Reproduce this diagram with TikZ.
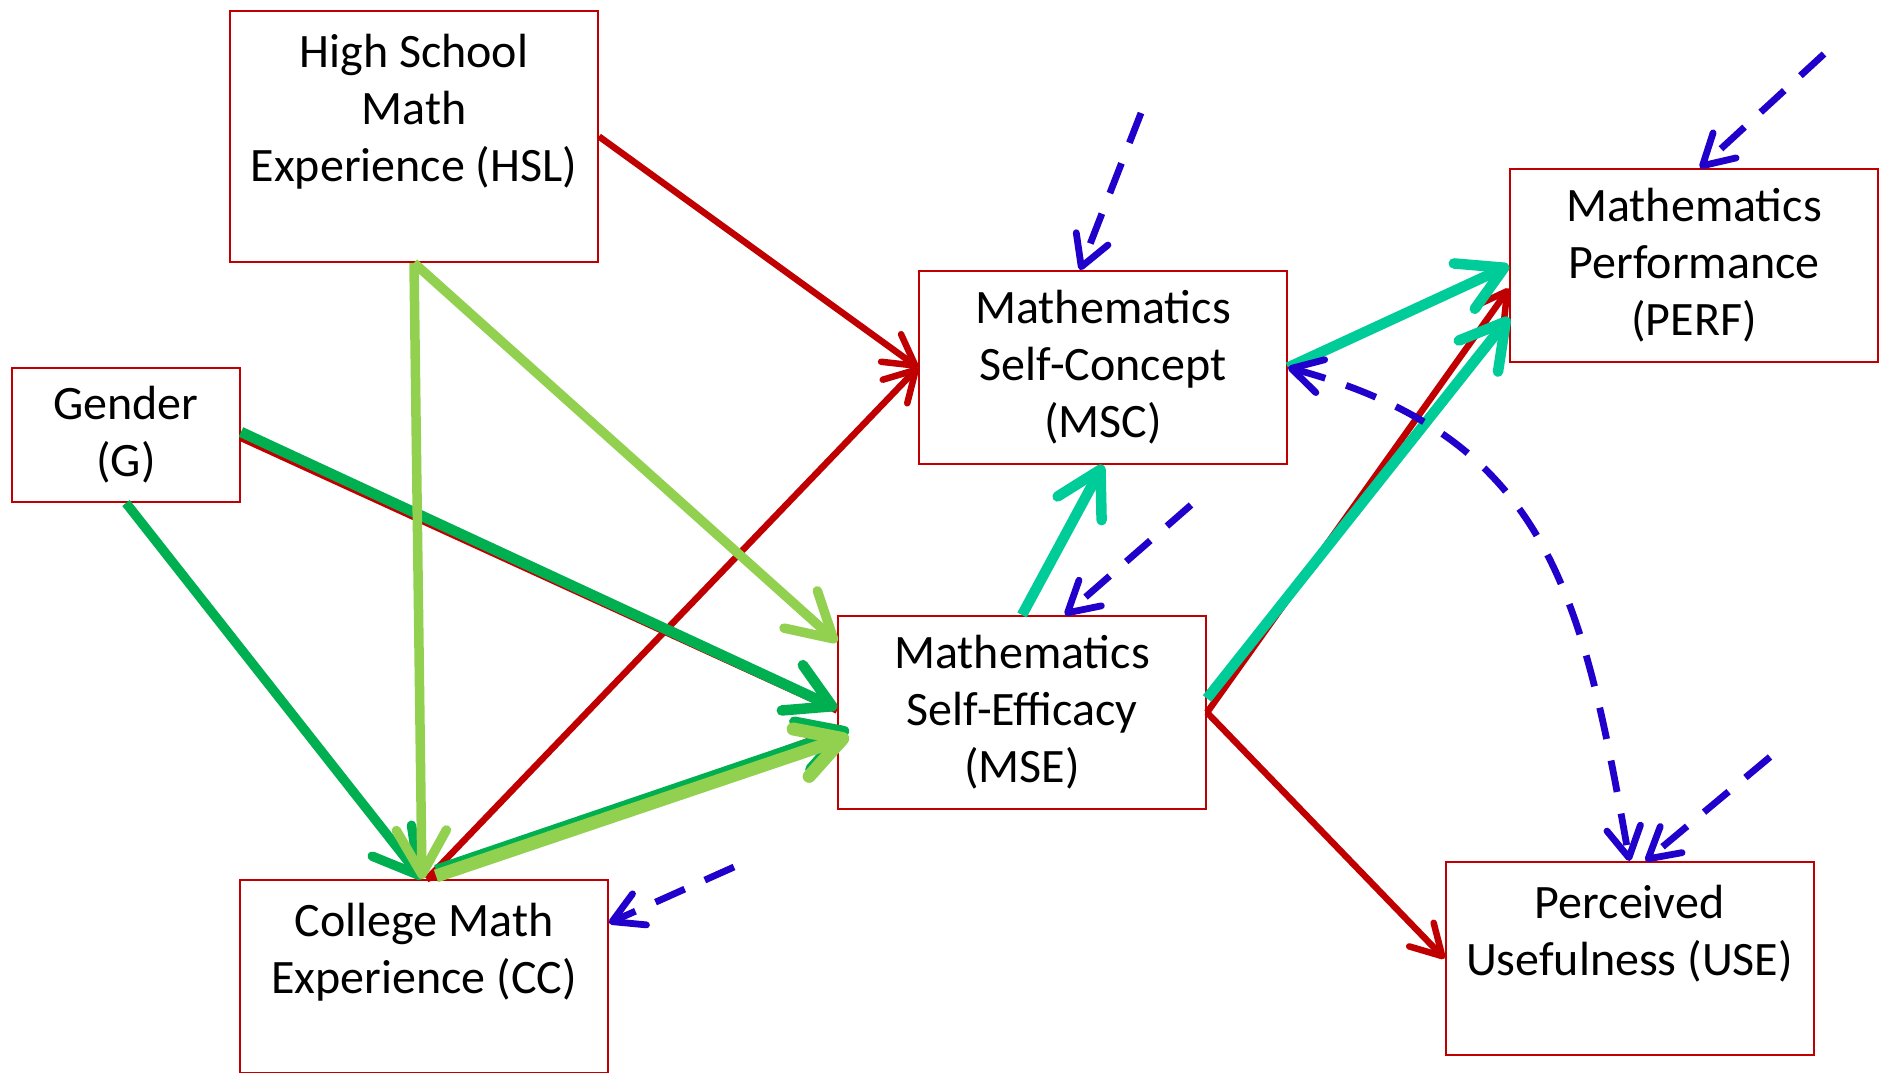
\documentclass[tikz,border=0pt]{standalone}
\usepackage{fontspec}
\setmainfont{Carlito}
\usetikzlibrary{arrows.meta}
\definecolor{boxred}{HTML}{C00000}
\definecolor{arred}{HTML}{C00000}
\definecolor{dgreen}{HTML}{00B050}
\definecolor{lgreen}{HTML}{92D050}
\definecolor{tealc}{HTML}{00CC99}
\definecolor{bluec}{HTML}{2200CC}
\begin{document}
\begin{tikzpicture}[x=0.5pt,y=-0.5pt,
  box/.style={draw=boxred, line width=1pt, minimum width=184pt, minimum height=96.5pt,
    inner sep=0pt, align=center, font=\fontsize{24}{28.5}\selectfont},
  thinhead/.style={-{Straight Barb[length=15pt,width=17pt,round]}},
  thickhead/.style={-{Straight Barb[length=22pt,width=25pt,round]}},
  redline/.style={draw=arred, line width=3.25pt},
  redarr/.style={redline, thinhead},
  dgarr/.style={draw=dgreen, line width=5.25pt, thickhead},
  lgarr/.style={draw=lgreen, line width=5pt, thickhead},
  tarr/.style={draw=tealc, line width=5.25pt, thickhead},
  barr/.style={draw=bluec, line width=3.4pt, dash pattern=on 16pt off 11pt, thinhead}]
\useasboundingbox (0,0) rectangle (1879,1072);
\fill[white] (0,0) rectangle (1879,1072);

% boxes
\node[box, minimum height=125.5pt] (hsl) at (414,136.5) {High School\\Math\\Experience (HSL)\\\mbox{}};
\node[box, minimum width=114pt, minimum height=67pt] (gen) at (126,435) {Gender\\(G)};
\node[box] (msc) at (1103,367.5) {Mathematics\\Self-Concept\\(MSC)};
\node[box] (perf) at (1694,265.5) {Mathematics\\Performance\\(PERF)};
\node[box] (mse) at (1022,712.5) {Mathematics\\Self-Efficacy\\(MSE)};
\node[box] (cc) at (424,976.5) {College Math\\Experience (CC)\\\mbox{}};
\node[box] (use) at (1629.5,958.5) {Perceived\\Usefulness (USE)\\\mbox{}};

% red paths
\draw[redarr] (hsl.east) -- (msc.west);
\draw[redarr] ([xshift=1.5pt]cc.north) -- (msc.west);
\draw[redline] ([yshift=-1.5pt]gen.east) -- ([yshift=1pt]mse.west);
\draw[redline] ([xshift=1.5pt]cc.north) -- ([xshift=3pt,yshift=-8pt]mse.west);
\draw[redarr] (mse.east) -- ([yshift=-11.5pt]perf.west);
\draw[redarr] (mse.east) -- (use.west);

% dark green paths
\draw[dgarr, line width=4.75pt] (gen.south) -- ([xshift=-1pt]cc.north);
\draw[dgarr] ([yshift=1.5pt]gen.east) -- ([yshift=2pt]mse.west);
\draw[dgarr] ([xshift=6pt,yshift=4.5pt]cc.north) -- ([xshift=6pt,yshift=-8.5pt]mse.west);

% light green paths
\draw[lgarr, line width=4.75pt] (hsl.south) -- ([xshift=-1pt]cc.north);
\draw[lgarr, line width=4.75pt] (hsl.south) -- ([yshift=-13.5pt]mse.north west);
\draw[lgarr, line width=6.5pt] ([xshift=6pt,yshift=1.5pt]cc.north) -- ([xshift=6pt,yshift=-12pt]mse.west);

% teal paths
\draw[tarr] (msc.east) -- (perf.west);
\draw[tarr] ([yshift=7pt]mse.east) -- ([yshift=-26pt]perf.west);
\draw[tarr] (mse.north) -- (msc.south);

% blue dashed disturbances
\coordinate (b1) at (1141,113);
\coordinate (b2) at (1824,54);
\coordinate (b3) at (1191,505);
\coordinate (b4) at (734,867);
\coordinate (b5) at (1770,757);
\draw[barr] (b1) -- ([xshift=-11.5pt]msc.north);
\draw[barr] (b2) -- ([xshift=3pt]perf.north);
\draw[barr] (b3) -- ([xshift=21.5pt]mse.north);
\draw[barr] (b4) -- ([yshift=-22pt]cc.north east);
\draw[barr] (b5) -- ([xshift=8pt]use.north);
\draw[barr, {Straight Barb[length=15pt,width=17pt,round]}-{Straight Barb[length=15pt,width=17pt,round]}]
  (msc.east) to[out=-15,in=100,looseness=1.15] (use.north);
\end{tikzpicture}
\end{document}
